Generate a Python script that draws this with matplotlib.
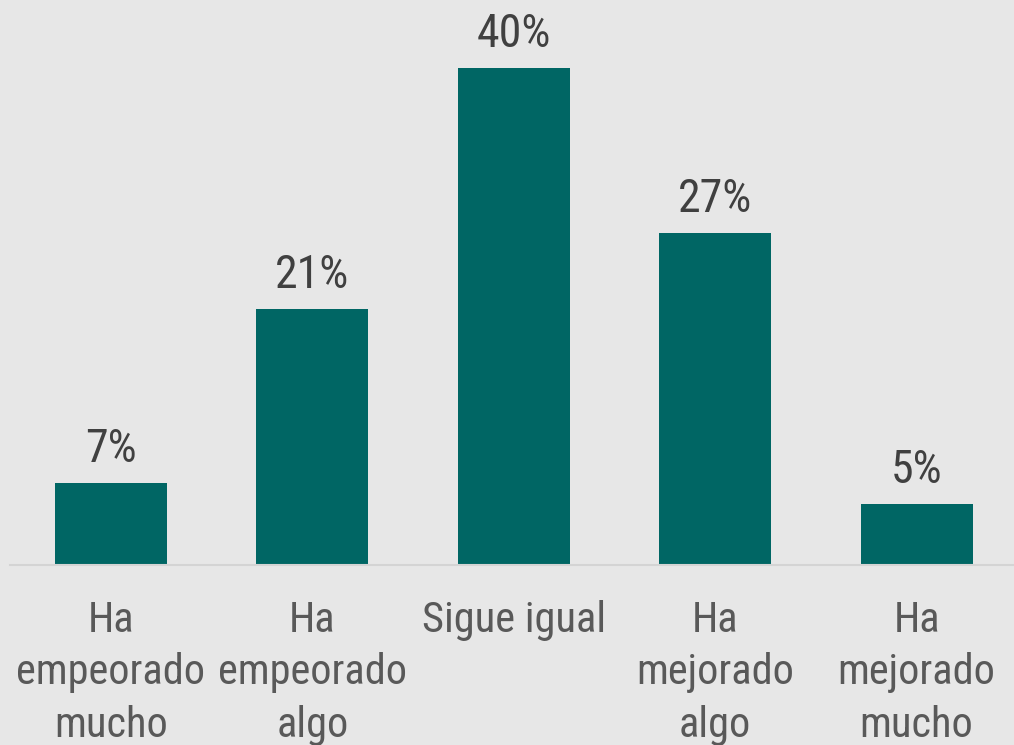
import matplotlib
matplotlib.use("Agg")
import matplotlib.pyplot as plt
from matplotlib import font_manager

categories = ["Ha\nempeorado\nmucho", "Ha\nempeorado\nalgo", "Sigue igual",
              "Ha\nmejorado\nalgo", "Ha\nmejorado\nmucho"]
values = [6.6, 20.6, 40.0, 26.7, 4.9]
value_labels = ["7%", "21%", "40%", "27%", "5%"]

available = {f.name for f in font_manager.fontManager.ttflist}
family = "DejaVu Sans"
for cand in ["Roboto Condensed", "Liberation Sans Narrow", "Roboto"]:
    if cand in available:
        family = cand
        break
plt.rcParams['font.family'] = [family, 'DejaVu Sans']

bg = "#e7e7e7"
bar_color = "#006664"

fig = plt.figure(figsize=(10.14, 7.45), dpi=100, facecolor=bg)
ax = fig.add_axes([10.3/1014, 1 - 565/745, 1007/1014, 565/745])
ax.set_facecolor(bg)

x = list(range(len(categories)))
ax.bar(x, values, width=0.556, color=bar_color, zorder=2)
ax.set_xlim(-0.5, 4.5)
ax.set_ylim(0, 45.5)

for xi, v, lab in zip(x, values, value_labels):
    ax.annotate(lab, (xi, v), xytext=(0, 9), textcoords="offset points",
                ha="center", va="bottom", fontsize=33, color="#404040")

for s in ["top", "right", "left"]:
    ax.spines[s].set_visible(False)
ax.spines["bottom"].set_color("#d4d4d4")
ax.spines["bottom"].set_linewidth(1.5)
ax.set_yticks([])
ax.set_xticks(x)
ax.set_xticklabels(categories, fontsize=30.5, color="#595959", linespacing=1.36)
ax.tick_params(axis="x", length=0, pad=25)

fig.savefig("out.png", dpi=100, facecolor=bg)
